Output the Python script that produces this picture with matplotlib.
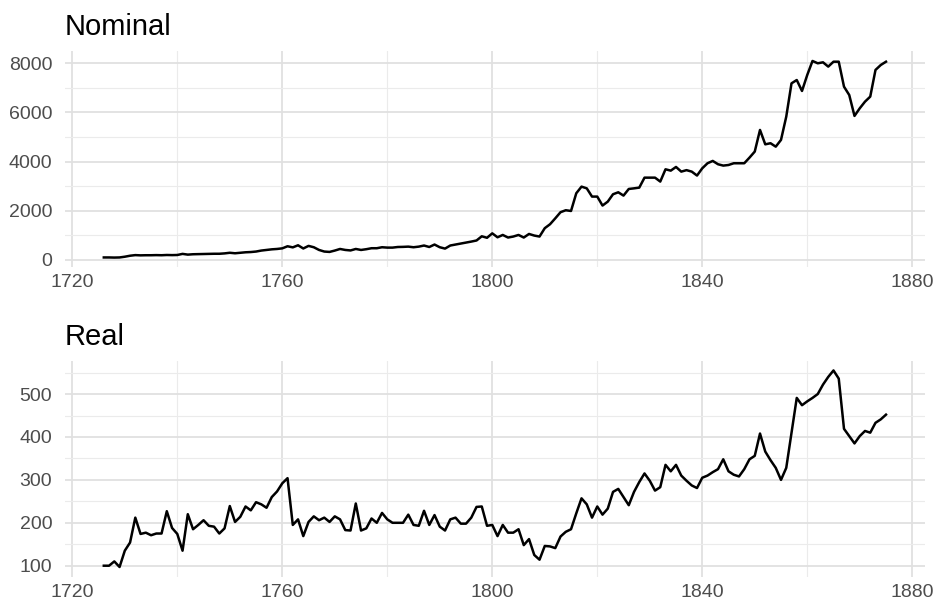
import numpy as np
import matplotlib
matplotlib.use('Agg')
import matplotlib.pyplot as plt
from matplotlib.ticker import MultipleLocator

# yearly series, 1726-1875
years = list(range(1726, 1876))

nominal = [
    100, 100, 95, 100, 130, 170, 195, 185, 190, 190,          # 1726-1735
    195, 190, 200, 195, 200, 245, 215, 230, 235, 240,         # 1736-1745
    245, 250, 250, 265, 290, 270, 290, 310, 320, 340,         # 1746-1755
    380, 405, 430, 445, 470, 555, 510, 595, 465, 570,         # 1756-1765
    515, 405, 340, 325, 380, 445, 405, 385, 445, 405,         # 1766-1775
    435, 475, 475, 515, 500, 500, 525, 530, 540, 515,         # 1776-1785
    540, 585, 525, 625, 515, 460, 585, 625, 665, 705,         # 1786-1795
    745, 790, 960, 900, 1080, 920, 1015, 910, 950, 1015,      # 1796-1805
    910, 1055, 990, 950, 1290, 1450, 1690, 1940, 2020, 1990,  # 1806-1815
    2710, 2980, 2910, 2575, 2575, 2210, 2370, 2670, 2750, 2615,  # 1816-1825
    2885, 2910, 2940, 3345, 3345, 3345, 3185, 3685, 3630, 3780,  # 1826-1835
    3590, 3650, 3590, 3430, 3725, 3930, 4025, 3890, 3835, 3860,  # 1836-1845
    3930, 3930, 3930, 4160, 4405, 5285, 4700, 4745, 4605, 4880,  # 1846-1855
    5825, 7180, 7315, 6870, 7520, 8090, 7995, 8035, 7860, 8060,  # 1856-1865
    8060, 7045, 6705, 5855, 6165, 6435, 6640, 7725, 7925, 8060,  # 1866-1875
]

real = [
    100, 100, 110, 97, 135, 154, 212, 174, 177, 171,   # 1726-1735
    175, 175, 227, 188, 174, 135, 220, 185, 195, 206,  # 1736-1745
    193, 191, 175, 187, 239, 202, 214, 238, 229, 248,  # 1746-1755
    243, 235, 260, 273, 292, 304, 195, 208, 169, 202,  # 1756-1765
    215, 206, 212, 202, 215, 208, 183, 182, 245, 182,  # 1766-1775
    187, 210, 200, 223, 208, 200, 200, 200, 219, 195,  # 1776-1785
    193, 228, 195, 218, 191, 182, 208, 212, 198, 198,  # 1786-1795
    212, 237, 238, 193, 195, 169, 195, 177, 177, 185,  # 1796-1805
    148, 162, 125, 114, 146, 145, 141, 168, 179, 185,  # 1806-1815
    222, 257, 243, 212, 238, 219, 233, 272, 279, 260,  # 1816-1825
    241, 272, 295, 315, 298, 275, 283, 335, 320, 335,  # 1826-1835
    310, 298, 287, 281, 305, 310, 318, 325, 348, 320,  # 1836-1845
    312, 308, 325, 348, 356, 408, 366, 346, 328, 300,  # 1846-1855
    328, 410, 491, 474, 483, 491, 500, 522, 540, 555,  # 1856-1865
    536, 419, 402, 385, 402, 414, 410, 433, 441, 452,  # 1866-1875
]

x_ticks = [1720, 1760, 1800, 1840, 1880]

plt.rcParams['font.family'] = ['Liberation Sans', 'DejaVu Sans']

fig = plt.figure(figsize=(9.39, 6.05), dpi=100)
ax1 = fig.add_axes([0.0689, 0.558, 0.9163, 0.3575])
ax2 = fig.add_axes([0.0689, 0.0465, 0.9163, 0.3575])

panels = [(ax1, nominal, 'Nominal', 2000, 1000),
          (ax2, real, 'Real', 100, 50)]

for ax, vals, title, major, minor in panels:
    ax.plot(years, vals, color='black', lw=1.8, solid_joinstyle='round')
    ax.set_xticks(x_ticks)
    ax.xaxis.set_minor_locator(MultipleLocator(20))
    ax.yaxis.set_major_locator(MultipleLocator(major))
    ax.yaxis.set_minor_locator(MultipleLocator(minor))
    ax.grid(which='major', color='#e0e0e0', lw=1.3)
    ax.grid(which='minor', color='#ebebeb', lw=0.8)
    ax.set_axisbelow(True)
    for s in ax.spines.values():
        s.set_visible(False)
    ax.tick_params(which='both', length=0, labelsize=14,
                   labelcolor='#4d4d4d')
    ax.tick_params(axis='y', pad=9)
    ax.tick_params(axis='x', pad=5)
    ax.set_title(title, loc='left', fontsize=21, pad=11.5)

# ggplot-style 5% expansion around the data
ax1.set_ylim(-305, 8490)
ax2.set_ylim(74, 578)
for ax in (ax1, ax2):
    ax.set_xlim(1718.55, 1882.45)

fig.savefig('out.png', dpi=100)
